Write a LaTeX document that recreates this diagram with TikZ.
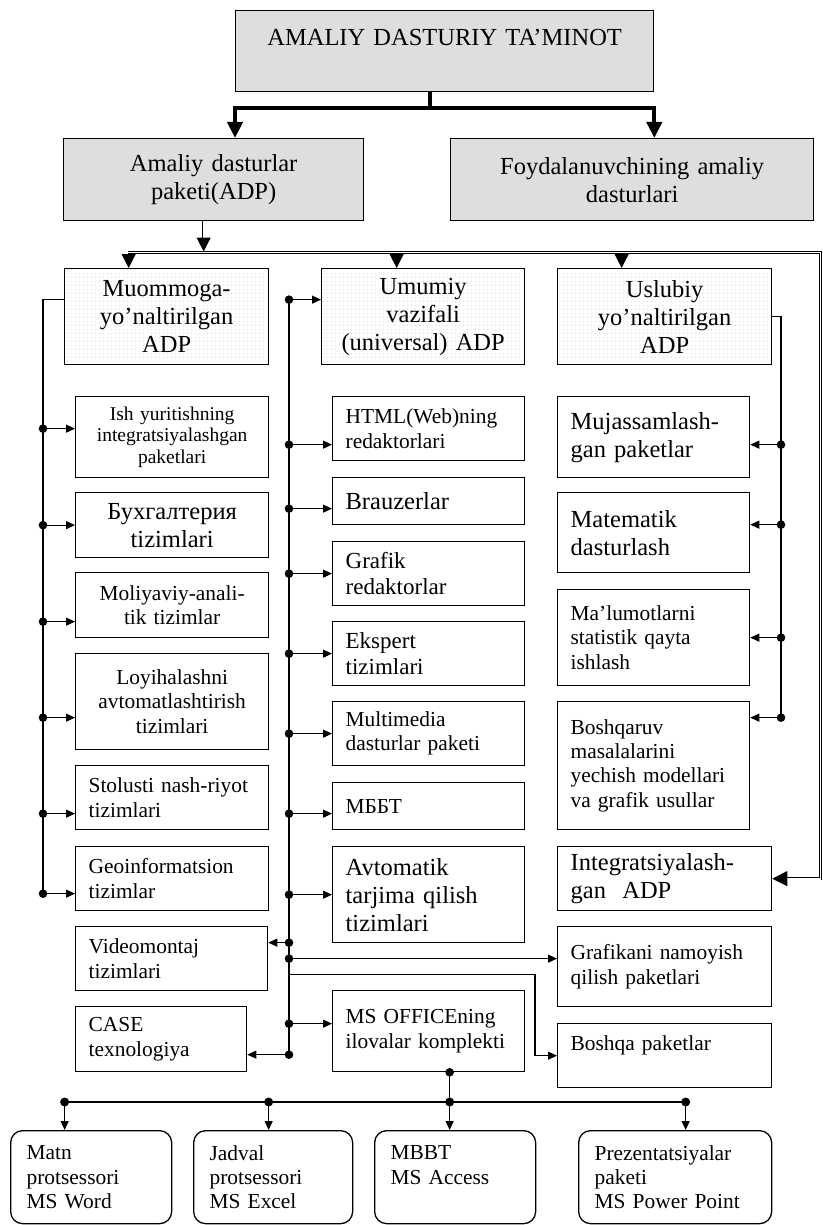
\documentclass[tikz,border=0pt]{standalone}
\usepackage{fontspec}
\setmainfont{Liberation Serif}
\usetikzlibrary{arrows.meta,patterns.meta}

\newcommand\fbig{\fontsize{24.5}{28}\selectfont}
\newcommand\fmid{\fontsize{21.4}{24.3}\selectfont}
\newcommand\fmed{\fontsize{23}{26}\selectfont}
\newcommand\fsml{\fontsize{19.5}{21.7}\selectfont}

\tikzset{
  box/.style={draw,line width=1.3pt,anchor=north west,inner xsep=13pt,inner ysep=0pt,align=left,font=\fmid},
  cbox/.style={box,align=center},
  gbox/.style={cbox,fill=black!13,font=\fbig},
  pbox/.style={cbox,font=\fbig,pattern={Dots[distance=4pt,radius=0.55pt]},pattern color=black!22},
  obox/.style={box,rounded corners=12pt,inner xsep=16pt,minimum height=93pt},
  bus/.style={line width=1.1pt},
  br/.style={bus,-{Triangle[length=9pt,width=8pt]}},
  dbl/.style={double,double distance=1.8pt,line width=0.9pt},
}

\begin{document}
\begin{tikzpicture}[x=1pt,y=-1pt,line join=miter]
  \path[use as bounding box,fill=white] (0,0) rectangle (822,1225);
  % yuqori bloklar
  \node[gbox,text width=392pt,minimum height=81pt] (top) at (235,10) {AMALIY DASTURIY TA’MINOT\\ \mbox{}};
  \node[gbox,text width=274pt,minimum height=82pt] (adp) at (63,138) {Amaliy dasturlar\\paketi(ADP)};
  \node[gbox,text width=337pt,minimum height=82pt] (foyd) at (450,138) {Foydalanuvchining amaliy\\dasturlari};
  % ADP turlari
  \node[pbox,text width=178pt,minimum height=96pt] (muam) at (64,268) {Muommoga-\\yo’naltirilgan\\ADP};
  \node[pbox,text width=177pt,minimum height=96pt] (umum) at (321,268) {Umumiy\\vazifali\\(universal) ADP};
  \node[pbox,text width=188pt,minimum height=96pt] (uslub) at (557,268) {Uslubiy\\yo’naltirilgan\\ADP};
  % chap ustun
  \node[cbox,font=\fsml,text width=167pt,minimum height=81pt] (l1) at (75,396) {Ish yuritishning\\integratsiyalashgan\\paketlari};
  \node[cbox,font=\fbig,text width=167pt,minimum height=65pt] (l2) at (75,492) {Бухгалтерия\\tizimlari};
  \node[cbox,text width=167pt,minimum height=65pt] (l3) at (75,572) {Moliyaviy-anali-\\tik tizimlar};
  \node[cbox,text width=167pt,minimum height=96pt] (l4) at (75,653) {Loyihalashni\\avtomatlashtirish\\tizimlari};
  \node[box,text width=167pt,minimum height=64pt] (l5) at (75,765) {Stolusti nash-riyot\\tizimlari};
  \node[box,text width=167pt,minimum height=64pt] (l6) at (75,846) {Geoinformatsion\\tizimlar};
  \node[box,text width=166pt,minimum height=64pt] (video) at (75,926) {Videomontaj\\tizimlari};
  \node[box,text width=145pt,minimum height=65pt] (case) at (75,1006) {CASE\\texnologiya};
  % o'rta ustun
  \node[box,text width=166pt,minimum height=64pt] (m1) at (332,396) {HTML(Web)ning\\redaktorlari};
  \node[box,font=\fbig,text width=166pt,minimum height=47pt] (m2) at (332,477) {Brauzerlar};
  \node[box,font=\fmed,text width=166pt,minimum height=64pt] (m3) at (332,541) {Grafik\\redaktorlar};
  \node[box,font=\fmed,text width=166pt,minimum height=64pt] (m4) at (332,621) {Ekspert\\tizimlari};
  \node[box,text width=166pt,minimum height=64pt] (m5) at (332,701) {Multimedia\\dasturlar paketi};
  \node[box,text width=166pt,minimum height=47pt] (m6) at (332,782) {МББТ};
  \node[box,font=\fbig,text width=166pt,minimum height=96pt] (m7) at (332,846) {Avtomatik\\tarjima qilish\\tizimlari};
  \node[box,text width=166pt,minimum height=81pt] (msoff) at (332,990) {MS OFFICEning\\ilovalar komplekti};
  % o'ng ustun
  \node[box,font=\fbig,text width=166pt,minimum height=81pt] (r1) at (557,396) {Mujassamlash-\\gan paketlar};
  \node[box,font=\fbig,text width=166pt,minimum height=80pt] (r2) at (557,492) {Matematik\\dasturlash};
  \node[box,text width=166pt,minimum height=96pt] (r3) at (557,589) {Ma’lumotlarni\\statistik qayta\\ishlash};
  \node[box,text width=166pt,minimum height=128pt] (r4) at (557,701) {Boshqaruv\\masalalarini\\yechish modellari\\va grafik usullar};
  \node[box,font=\fbig,text width=188pt,minimum height=64pt] (integ) at (557,846) {Integratsiyalash-\\gan\ \ ADP};
  \node[box,text width=188pt,minimum height=80pt] (grafk) at (557,926) {Grafikani namoyish\\qilish paketlari};
  \node[box,text width=188pt,minimum height=64pt] (boshqa) at (557,1023) {Boshqa paketlar\\ \mbox{}};
  % MS Office ilovalari
  \node[obox,text width=129pt] (b1) at (10,1130) {Matn\\protsessori\\MS Word};
  \node[obox,text width=127pt] (b2) at (193,1130) {Jadval\\protsessori\\MS Excel};
  \node[obox,text width=129pt] (b3) at (374,1130) {MBBT\\MS Access\\ \mbox{}};
  \node[obox,text width=161pt] (b4) at (578,1130) {Prezentatsiyalar\\paketi\\MS Power Point};

  % qalin bog'lanish
  \coordinate (tj) at ([xshift=-15pt,yshift=-16pt]top.south);
  \draw[line width=4pt] ([xshift=-15pt]top.south) -- (tj);
  \draw[line width=4pt,-{Triangle[length=16pt,width=15pt]}] (tj) -| (top.south west |- adp.north);
  \draw[line width=4pt,-{Triangle[length=16pt,width=15pt]}] (tj) -| (top.south east |- foyd.north);
  % qo'sh chiziqlar
  \coordinate (dl) at (128,252.5);
  \coordinate (dr) at (820.5,252.5);
  \coordinate (dt) at ([xshift=-10pt,yshift=14pt]adp.south |- dl);
  \draw[dbl] ([xshift=-10pt]adp.south) -- (dt);
  \draw[line width=1pt,-{Triangle[length=14pt,width=14pt]}] (dt) -- ([xshift=-10pt,yshift=1pt]adp.south |- dl);
  \draw[dbl,-{Triangle[length=15pt,width=15pt]}] (dl) -- (dr) |- (integ.east);
  \foreach \n/\d in {muam/-38,umum/-26.5,uslub/-43}
    \draw[line width=1pt,-{Triangle[length=14pt,width=14pt]}] ([xshift=\d pt,yshift=-1.5pt]\n.north |- dl) -- ([xshift=\d pt]\n.north);
  % chap shina
  \coordinate (lx) at (43,0);
  \draw[bus] ([yshift=17pt]muam.west) -| ([yshift=-15pt]l6.west -| lx);
  \foreach \n/\d in {l1/8.5,l2/0,l3/-16.5,l4/-16,l5/-16,l6/-15} {
    \draw[br] ([yshift=\d pt]\n.west -| lx) -- ([yshift=\d pt]\n.west);
    \fill ([yshift=\d pt]\n.west -| lx) circle (4.3pt);
  }
  % o'rta shina
  \coordinate (mx) at (289,0);
  \draw[bus] ([yshift=17pt]umum.west -| mx) -- ([yshift=-15.5pt]case.east -| mx);
  \foreach \n/\d in {umum/17,m1/-16,m2/-7.5,m3/0,m4/0,m5/0,m6/-7.5,m7/0,msoff/7.5,grafk/8} {
    \draw[br] ([yshift=\d pt]\n.west -| mx) -- ([yshift=\d pt]\n.west);
    \fill ([yshift=\d pt]\n.west -| mx) circle (4.3pt);
  }
  \foreach \n/\d in {video/16,case/-15.5} {
    \draw[br] ([yshift=\d pt]\n.east -| mx) -- ([yshift=\d pt]\n.east);
    \fill ([yshift=\d pt]\n.east -| mx) circle (4.3pt);
  }
  \draw[br] ([yshift=81pt]boshqa.west -| mx) -| ([xshift=-22pt]boshqa.west) -- (boshqa.west);
  % o'ng shina
  \coordinate (rx) at (781,0);
  \draw[bus] (uslub.east) -| ([yshift=48pt]r4.east -| rx);
  \foreach \n/\d in {r1/-7.5,r2/8,r3/0,r4/48} {
    \draw[br] ([yshift=\d pt]\n.east -| rx) -- ([yshift=\d pt]\n.east);
    \fill ([yshift=\d pt]\n.east -| rx) circle (4.3pt);
  }
  % pastki shina
  \coordinate (bb) at (0,1102);
  \draw[bus] ([xshift=21pt]msoff.south) -- ([xshift=21pt]msoff.south |- bb);
  \fill ([xshift=21pt]msoff.south) circle (4.3pt);
  \draw[line width=2.8pt] ([xshift=-26.5pt]b1.north |- bb) -- ([xshift=10.5pt]b4.north |- bb);
  \foreach \n/\d in {b1/-26.5,b2/-4.5,b3/-5.5,b4/10.5} {
    \draw[br] ([xshift=\d pt]\n.north |- bb) -- ([xshift=\d pt]\n.north);
    \fill ([xshift=\d pt]\n.north |- bb) circle (4.5pt);
  }
\end{tikzpicture}
\end{document}
